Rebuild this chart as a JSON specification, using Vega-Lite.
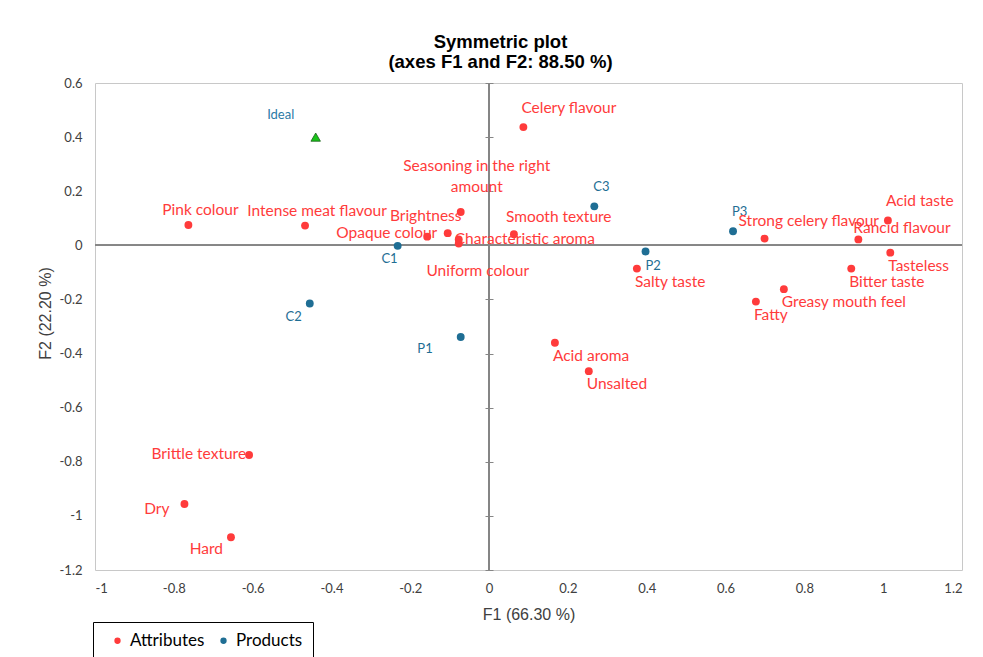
{
  "$schema": "https://vega.github.io/schema/vega-lite/v6.json",
  "width": 867,
  "height": 487,
  "autosize": {"type": "none"},
  "padding": {"left": 95, "top": 83, "right": 21, "bottom": 87},
  "background": "white",
  "title": {"text": ["Symmetric plot", "(axes F1 and F2: 88.50 %)"], "font": "Liberation Sans", "fontSize": 18.5, "fontWeight": "bold", "color": "#000000", "anchor": "middle", "dx": -28, "lineHeight": 20, "offset": 6},
  "data": {"values": [
    {"name": "Pink colour", "type": "Attributes", "F1": -0.763, "F2": 0.075},
    {"name": "Intense meat flavour", "type": "Attributes", "F1": -0.467, "F2": 0.073},
    {"name": "Opaque colour", "type": "Attributes", "F1": -0.157, "F2": 0.032},
    {"name": "Brightness", "type": "Attributes", "F1": -0.105, "F2": 0.045},
    {"name": "Seasoning in the right amount", "type": "Attributes", "F1": -0.072, "F2": 0.123},
    {"name": "Characteristic aroma", "type": "Attributes", "F1": -0.077, "F2": 0.022},
    {"name": "Uniform colour", "type": "Attributes", "F1": -0.077, "F2": 0.007},
    {"name": "Smooth texture", "type": "Attributes", "F1": 0.063, "F2": 0.041},
    {"name": "Celery flavour", "type": "Attributes", "F1": 0.087, "F2": 0.437},
    {"name": "Strong celery flavour", "type": "Attributes", "F1": 0.699, "F2": 0.025},
    {"name": "Acid taste", "type": "Attributes", "F1": 1.012, "F2": 0.092},
    {"name": "Rancid flavour", "type": "Attributes", "F1": 0.937, "F2": 0.022},
    {"name": "Tasteless", "type": "Attributes", "F1": 1.018, "F2": -0.027},
    {"name": "Bitter taste", "type": "Attributes", "F1": 0.919, "F2": -0.086},
    {"name": "Salty taste", "type": "Attributes", "F1": 0.375, "F2": -0.086},
    {"name": "Greasy mouth feel", "type": "Attributes", "F1": 0.748, "F2": -0.162},
    {"name": "Fatty", "type": "Attributes", "F1": 0.677, "F2": -0.208},
    {"name": "Acid aroma", "type": "Attributes", "F1": 0.167, "F2": -0.36},
    {"name": "Unsalted", "type": "Attributes", "F1": 0.253, "F2": -0.465},
    {"name": "Brittle texture", "type": "Attributes", "F1": -0.609, "F2": -0.775},
    {"name": "Dry", "type": "Attributes", "F1": -0.773, "F2": -0.956},
    {"name": "Hard", "type": "Attributes", "F1": -0.655, "F2": -1.079},
    {"name": "C1", "type": "Products", "F1": -0.232, "F2": -0.002},
    {"name": "C2", "type": "Products", "F1": -0.455, "F2": -0.215},
    {"name": "C3", "type": "Products", "F1": 0.267, "F2": 0.144},
    {"name": "P1", "type": "Products", "F1": -0.072, "F2": -0.339},
    {"name": "P2", "type": "Products", "F1": 0.397, "F2": -0.023},
    {"name": "P3", "type": "Products", "F1": 0.619, "F2": 0.052},
    {"name": "Ideal", "type": "Ideal", "F1": -0.44, "F2": 0.4}
  ]},
  "config": {
    "view": {"stroke": "#c8c8c8"},
    "axis": {"grid": false, "domain": false, "ticks": false, "labelFont": "Lato", "labelFontSize": 13, "labelColor": "#404040", "titleFont": "Liberation Sans", "titleFontSize": 16, "titleFontWeight": "normal", "titleColor": "#404040"},
    "text": {"font": "Lato", "fontSize": 15.5}
  },
  "resolve": {"axis": {"y": "independent"}},
  "encoding": {
    "x": {"field": "F1", "type": "quantitative", "title": "F1 (66.30 %)", "scale": {"domain": [-1, 1.2], "nice": false, "zero": false},
          "axis": {"orient": "bottom", "values": [-1, -0.8, -0.6, -0.4, -0.2, 0, 0.2, 0.4, 0.6, 0.8, 1, 1.2], "labelExpr": "'' + datum.value", "labelPadding": 12, "titlePadding": 11}},
    "y": {"field": "F2", "type": "quantitative", "scale": {"domain": [-1.2, 0.6], "nice": false, "zero": false}, "axis": null},
    "color": {"field": "type", "type": "nominal", "scale": {"domain": ["Attributes", "Products"], "range": ["#ff3b3b", "#1f6e94"]}, "legend": null}
  },
  "layer": [
    {
      "mark": {"type": "rule", "color": "#868686"},
      "encoding": {
        "x": {"datum": 0, "type": "quantitative", "title": "F1 (66.30 %)", "scale": {"domain": [-1, 1.2], "nice": false, "zero": false},
              "axis": {"orient": "bottom", "values": [-1, -0.8, -0.6, -0.4, -0.2, 0, 0.2, 0.4, 0.6, 0.8, 1, 1.2], "labelExpr": "'' + datum.value", "labelPadding": 12, "titlePadding": 11}},
        "y": {"datum": -1.2, "type": "quantitative", "scale": {"domain": [-1.2, 0.6], "nice": false, "zero": false},
              "axis": {"orient": "right", "offset": -477, "ticks": true, "tickSize": 8, "tickColor": "#868686", "labels": false, "title": null, "values": [-1.2, -1, -0.8, -0.6, -0.4, -0.2, 0, 0.2, 0.4, 0.6]}},
        "y2": {"datum": 0.6},
        "color": {"value": "#868686"}
      }
    },
    {
      "mark": {"type": "rule", "color": "#868686"},
      "encoding": {
        "x": {"datum": -1, "type": "quantitative", "title": "F1 (66.30 %)", "scale": {"domain": [-1, 1.2], "nice": false, "zero": false},
              "axis": {"orient": "bottom", "values": [-1, -0.8, -0.6, -0.4, -0.2, 0, 0.2, 0.4, 0.6, 0.8, 1, 1.2], "labelExpr": "'' + datum.value", "labelPadding": 12, "titlePadding": 11}},
        "x2": {"datum": 1.2},
        "y": {"datum": 0, "type": "quantitative", "axis": null},
        "color": {"value": "#868686"}
      }
    },
    {
      "transform": [{"filter": "datum.type !== 'Ideal'"}],
      "mark": {"type": "circle", "size": 62, "opacity": 1},
      "encoding": {
        "y": {"field": "F2", "type": "quantitative", "title": "F2 (22.20 %)", "scale": {"domain": [-1.2, 0.6], "nice": false, "zero": false},
              "axis": {"orient": "left", "values": [-1.2, -1, -0.8, -0.6, -0.4, -0.2, 0, 0.2, 0.4, 0.6], "labelExpr": "'' + datum.value", "labelPadding": 13, "titlePadding": 6, "titleY": 230}},
        "color": {"field": "type", "type": "nominal", "scale": {"domain": ["Attributes", "Products"], "range": ["#ff3b3b", "#1f6e94"]},
                  "legend": {"title": null, "orient": "none", "legendX": -2, "legendY": 539, "direction": "horizontal", "strokeColor": "#000000", "padding": 10, "symbolOffset": 6, "labelFont": "Lato", "labelFontSize": 17, "labelColor": "#000000", "symbolType": "circle", "symbolSize": 40, "columnPadding": 4}}
      }
    },
    {
      "transform": [{"filter": "datum.type === 'Ideal'"}],
      "mark": {"type": "point", "shape": "triangle-up", "filled": true, "size": 90, "fill": "#19c319", "stroke": "#1a5e1a", "strokeWidth": 0.8, "opacity": 1},
      "encoding": {"color": {"value": "#19c319"}}
    },
    {
      "transform": [{"filter": "datum.type === 'Ideal'"}],
      "mark": {"type": "text", "align": "center", "dx": -35, "dy": -22, "fontSize": 13},
      "encoding": {"text": {"field": "name"}, "color": {"value": "#2a7aa6"}}
    },
    {
      "transform": [{"filter": {"field": "name", "oneOf": ["Tasteless", "Bitter taste", "Salty taste", "Greasy mouth feel", "Fatty", "Acid aroma", "Unsalted"]}}],
      "mark": {"type": "text", "align": "left", "dx": -2, "dy": 13},
      "encoding": {"text": {"field": "name"}}
    },
    {
      "transform": [{"filter": {"field": "name", "oneOf": ["Celery flavour", "Acid taste"]}}],
      "mark": {"type": "text", "align": "left", "dx": -2, "dy": -19},
      "encoding": {"text": {"field": "name"}}
    },
    {
      "transform": [{"filter": {"field": "name", "oneOf": ["C3", "P3"]}}],
      "mark": {"type": "text", "align": "left", "dx": -1, "dy": -19, "fontSize": 13},
      "encoding": {"text": {"field": "name"}}
    },
    {
      "transform": [{"filter": {"field": "name", "oneOf": ["P2"]}}],
      "mark": {"type": "text", "align": "left", "dx": 0, "dy": 14, "fontSize": 13},
      "encoding": {"text": {"field": "name"}}
    },
    {
      "transform": [{"filter": {"field": "name", "oneOf": ["C1"]}}],
      "mark": {"type": "text", "align": "right", "dx": 0, "dy": 13, "fontSize": 13},
      "encoding": {"text": {"field": "name"}}
    },
    {
      "transform": [{"filter": {"field": "name", "oneOf": ["C2"]}}],
      "mark": {"type": "text", "align": "right", "dx": -8, "dy": 13, "fontSize": 13},
      "encoding": {"text": {"field": "name"}}
    },
    {
      "transform": [{"filter": {"field": "name", "oneOf": ["P1"]}}],
      "mark": {"type": "text", "align": "right", "dx": -28, "dy": 12, "fontSize": 13},
      "encoding": {"text": {"field": "name"}}
    },
    {
      "transform": [{"filter": {"field": "name", "oneOf": ["Smooth texture"]}}],
      "mark": {"type": "text", "align": "left", "dx": -8, "dy": -17},
      "encoding": {"text": {"field": "name"}}
    },
    {
      "transform": [{"filter": {"field": "name", "oneOf": ["Rancid flavour"]}}],
      "mark": {"type": "text", "align": "left", "dx": -5, "dy": -11},
      "encoding": {"text": {"field": "name"}}
    },
    {
      "transform": [{"filter": {"field": "name", "oneOf": ["Strong celery flavour"]}}],
      "mark": {"type": "text", "align": "left", "dx": -26, "dy": -18},
      "encoding": {"text": {"field": "name"}}
    },
    {
      "transform": [{"filter": {"field": "name", "oneOf": ["Pink colour", "Intense meat flavour"]}}],
      "mark": {"type": "text", "align": "center", "dx": 12, "dy": -15},
      "encoding": {"text": {"field": "name"}}
    },
    {
      "transform": [{"filter": {"field": "name", "oneOf": ["Brightness"]}}],
      "mark": {"type": "text", "align": "center", "dx": -22, "dy": -17},
      "encoding": {"text": {"field": "name"}}
    },
    {
      "transform": [{"filter": {"field": "name", "oneOf": ["Opaque colour"]}}],
      "mark": {"type": "text", "align": "right", "dx": 10, "dy": -4},
      "encoding": {"text": {"field": "name"}}
    },
    {
      "transform": [{"filter": {"field": "name", "oneOf": ["Seasoning in the right amount"]}}],
      "mark": {"type": "text", "align": "center", "dx": 16, "dy": -46, "lineHeight": 21},
      "encoding": {"text": {"value": ["Seasoning in the right", "amount"]}}
    },
    {
      "transform": [{"filter": {"field": "name", "oneOf": ["Characteristic aroma"]}}],
      "mark": {"type": "text", "align": "left", "dx": -4, "dy": 0},
      "encoding": {"text": {"field": "name"}}
    },
    {
      "transform": [{"filter": {"field": "name", "oneOf": ["Uniform colour"]}}],
      "mark": {"type": "text", "align": "center", "dx": 19, "dy": 28},
      "encoding": {"text": {"field": "name"}}
    },
    {
      "transform": [{"filter": {"field": "name", "oneOf": ["Brittle texture"]}}],
      "mark": {"type": "text", "align": "right", "dx": -3, "dy": -1},
      "encoding": {"text": {"field": "name"}}
    },
    {
      "transform": [{"filter": {"field": "name", "oneOf": ["Dry"]}}],
      "mark": {"type": "text", "align": "right", "dx": -15, "dy": 5},
      "encoding": {"text": {"field": "name"}}
    },
    {
      "transform": [{"filter": {"field": "name", "oneOf": ["Hard"]}}],
      "mark": {"type": "text", "align": "right", "dx": -8, "dy": 12},
      "encoding": {"text": {"field": "name"}}
    }
  ]
}
